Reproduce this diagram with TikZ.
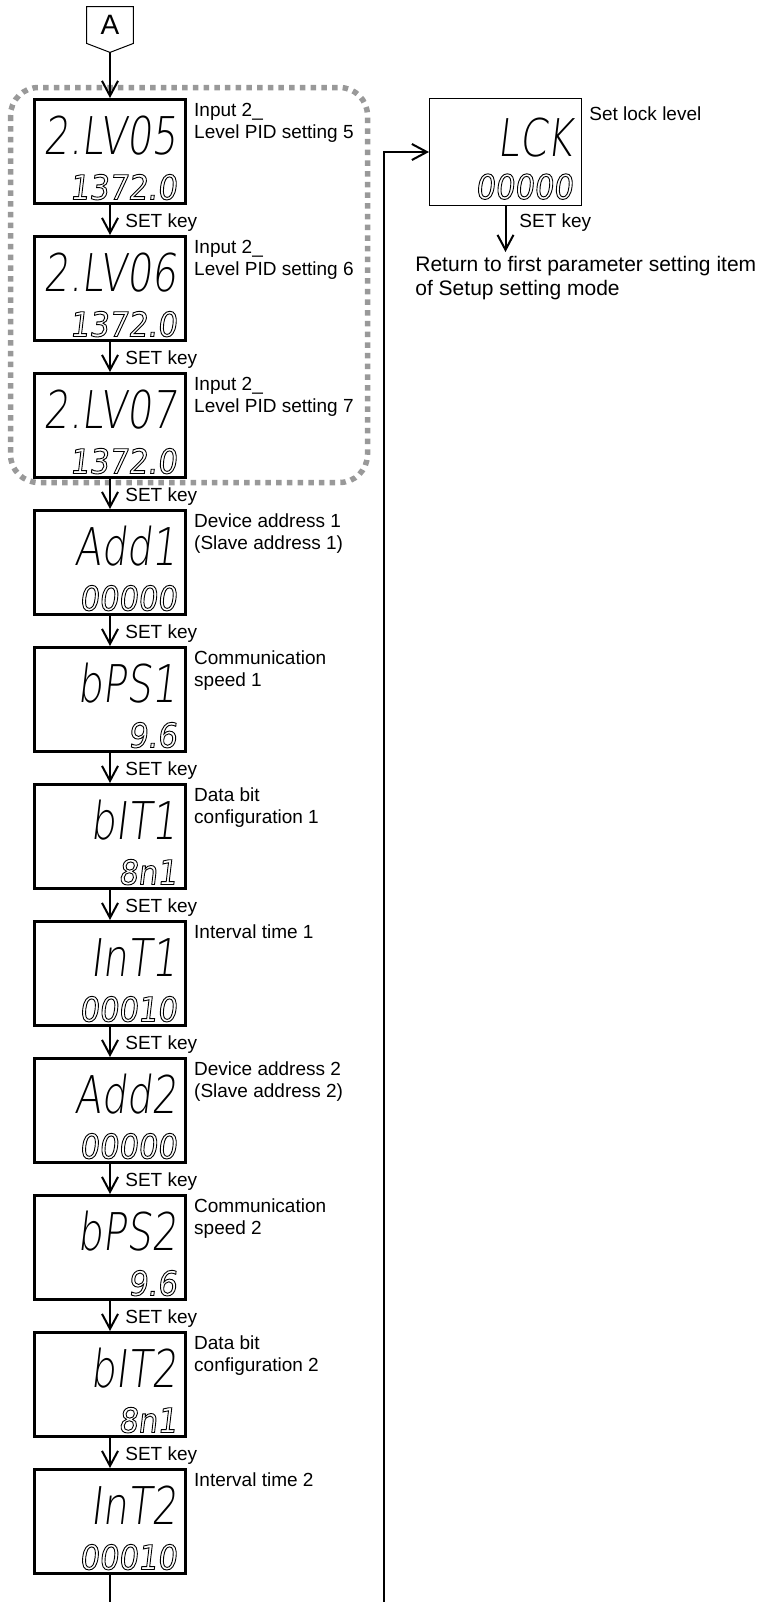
\documentclass[tikz,border=0pt]{standalone}
\usepackage{fontspec}
\setmainfont{Liberation Sans}
\newfontfamily\segfont{DejaVu Sans ExtraLight}[FakeSlant=0.12,FakeStretch=0.76]
\newfontfamily\segfontw{DejaVu Sans}[FakeSlant=0.12,FakeStretch=0.9]
\usepackage{tikz}
\usetikzlibrary{positioning, calc, arrows.meta}
\usepackage{xcolor}
\definecolor{dotgray}{HTML}{999999}
\newcommand{\hollow}[1]{\special{pdf:literal direct 1 Tr 0.45 w}#1\special{pdf:literal direct 0 Tr}}

\begin{document}
\begin{tikzpicture}[
  x=0.5pt, y=-0.5pt,
  panel/.style={draw, line width=1.5pt, minimum width=75.5pt, minimum height=52pt, inner sep=0pt},
  lockpanel/.style={draw, line width=0.5pt, minimum width=76pt, minimum height=53.5pt, inner sep=0pt},
  upper/.style={anchor=base east, inner sep=0pt, font=\segfont\fontsize{26}{26}\selectfont},
  lower/.style={anchor=base east, inner sep=0pt, font=\segfontw\fontsize{17}{17}\selectfont},
  desc/.style={anchor=north west, inner sep=0pt, align=left, font=\fontsize{9.5}{11}\selectfont},
  setkey/.style={anchor=base west, inner sep=0pt, font=\fontsize{9.5}{11}\selectfont},
  note/.style={anchor=north west, inner sep=0pt, align=left, font=\fontsize{10.5}{11.7}\selectfont},
  flow/.style={line width=1pt, -{Straight Barb[length=7.5pt, width=8pt]}}
]
  \useasboundingbox (0,0) rectangle (763,1602);

  % Connector A
  \node[minimum width=23pt, minimum height=18pt, inner sep=0pt, font=\fontsize{14}{14}\selectfont] (conA) at (110,25) {A};
  \draw[line width=0.5pt] (conA.north west) -- (conA.north east) -- (conA.south east)
    -- ([yshift=-4.5pt]conA.south) -- (conA.south west) -- cycle;
  \coordinate (tipA) at ([yshift=-4.5pt]conA.south);

  % Input 2 level PID group
  \draw[dotgray, line width=2.75pt, dash pattern=on 2.75pt off 2.6pt, rounded corners=14pt]
    (10.5,87.5) rectangle (367.5,482.5);

  % Displays
  \node[panel] (b1) at (110,151.5) {};
  \node[upper] (b1u) at ([xshift=-5pt, yshift=-28pt]b1.north east) {2.LV05};
  \node[lower] (b1l) at ([xshift=-5pt, yshift=2.75pt]b1.south east) {\hollow{1372.0}};
  \node[desc] (b1t) at ([xshift=3.4pt, yshift=-2.25pt]b1.north east) {Input 2\_\\Level PID setting 5};

  \node[panel] (b2) at (110,288.5) {};
  \node[upper] (b2u) at ([xshift=-5pt, yshift=-28pt]b2.north east) {2.LV06};
  \node[lower] (b2l) at ([xshift=-5pt, yshift=2.75pt]b2.south east) {\hollow{1372.0}};
  \node[desc] (b2t) at ([xshift=3.4pt, yshift=-2.25pt]b2.north east) {Input 2\_\\Level PID setting 6};

  \node[panel] (b3) at (110,425.5) {};
  \node[upper] (b3u) at ([xshift=-5pt, yshift=-28pt]b3.north east) {2.LV07};
  \node[lower] (b3l) at ([xshift=-5pt, yshift=2.75pt]b3.south east) {\hollow{1372.0}};
  \node[desc] (b3t) at ([xshift=3.4pt, yshift=-2.25pt]b3.north east) {Input 2\_\\Level PID setting 7};

  \node[panel] (b4) at (110,562.5) {};
  \node[upper] (b4u) at ([xshift=-5pt, yshift=-28pt]b4.north east) {Add1};
  \node[lower] (b4l) at ([xshift=-5pt, yshift=2.75pt]b4.south east) {\hollow{00000}};
  \node[desc] (b4t) at ([xshift=3.4pt, yshift=-2.25pt]b4.north east) {Device address 1\\(Slave address 1)};

  \node[panel] (b5) at (110,699.5) {};
  \node[upper] (b5u) at ([xshift=-5pt, yshift=-28pt]b5.north east) {bPS1};
  \node[lower] (b5l) at ([xshift=-5pt, yshift=2.75pt]b5.south east) {\hollow{9.6}};
  \node[desc] (b5t) at ([xshift=3.4pt, yshift=-2.25pt]b5.north east) {Communication\\speed 1};

  \node[panel] (b6) at (110,836.5) {};
  \node[upper] (b6u) at ([xshift=-5pt, yshift=-28pt]b6.north east) {bIT1};
  \node[lower] (b6l) at ([xshift=-5pt, yshift=2.75pt]b6.south east) {\hollow{8n1}};
  \node[desc] (b6t) at ([xshift=3.4pt, yshift=-2.25pt]b6.north east) {Data bit\\configuration 1};

  \node[panel] (b7) at (110,973.5) {};
  \node[upper] (b7u) at ([xshift=-5pt, yshift=-28pt]b7.north east) {InT1};
  \node[lower] (b7l) at ([xshift=-5pt, yshift=2.75pt]b7.south east) {\hollow{00010}};
  \node[desc] (b7t) at ([xshift=3.4pt, yshift=-2.25pt]b7.north east) {Interval time 1};

  \node[panel] (b8) at (110,1110.5) {};
  \node[upper] (b8u) at ([xshift=-5pt, yshift=-28pt]b8.north east) {Add2};
  \node[lower] (b8l) at ([xshift=-5pt, yshift=2.75pt]b8.south east) {\hollow{00000}};
  \node[desc] (b8t) at ([xshift=3.4pt, yshift=-2.25pt]b8.north east) {Device address 2\\(Slave address 2)};

  \node[panel] (b9) at (110,1247.5) {};
  \node[upper] (b9u) at ([xshift=-5pt, yshift=-28pt]b9.north east) {bPS2};
  \node[lower] (b9l) at ([xshift=-5pt, yshift=2.75pt]b9.south east) {\hollow{9.6}};
  \node[desc] (b9t) at ([xshift=3.4pt, yshift=-2.25pt]b9.north east) {Communication\\speed 2};

  \node[panel] (b10) at (110,1384.5) {};
  \node[upper] (b10u) at ([xshift=-5pt, yshift=-28pt]b10.north east) {bIT2};
  \node[lower] (b10l) at ([xshift=-5pt, yshift=2.75pt]b10.south east) {\hollow{8n1}};
  \node[desc] (b10t) at ([xshift=3.4pt, yshift=-2.25pt]b10.north east) {Data bit\\configuration 2};

  \node[panel] (b11) at (110,1521.5) {};
  \node[upper] (b11u) at ([xshift=-5pt, yshift=-28pt]b11.north east) {InT2};
  \node[lower] (b11l) at ([xshift=-5pt, yshift=2.75pt]b11.south east) {\hollow{00010}};
  \node[desc] (b11t) at ([xshift=3.4pt, yshift=-2.25pt]b11.north east) {Interval time 2};

  % Lock level
  \node[lockpanel] (lck) at (505.5,152) {};
  \node[upper] (lcku) at ([xshift=-4.5pt, yshift=-29.25pt]lck.north east) {LCK};
  \node[lower] (lckl) at ([xshift=-4.5pt, yshift=3.5pt]lck.south east) {\hollow{00000}};
  \node[desc] (lckt) at ([xshift=3.5pt, yshift=-4pt]lck.north east) {Set lock level};

  % Key labels
  \node[setkey] (k1) at (125,227.5) {SET key};
  \node[setkey] (k2) at (125,364.5) {SET key};
  \node[setkey] (k3) at (125,501.5) {SET key};
  \node[setkey] (k4) at (125,638.5) {SET key};
  \node[setkey] (k5) at (125,775.5) {SET key};
  \node[setkey] (k6) at (125,912.5) {SET key};
  \node[setkey] (k7) at (125,1049.5) {SET key};
  \node[setkey] (k8) at (125,1186.5) {SET key};
  \node[setkey] (k9) at (125,1323.5) {SET key};
  \node[setkey] (k10) at (125,1460.5) {SET key};
  \node[setkey] (klck) at (519,227.5) {SET key};

  \coordinate (retTip) at (505.5,252);
  \node[note] (ret) at (415,256) {Return to first parameter setting item\\of Setup setting mode};

  % Arrows
  \draw[flow] (tipA) -- (b1);
  \foreach \a/\b in {b1/b2, b2/b3, b3/b4, b4/b5, b5/b6, b6/b7, b7/b8, b8/b9, b9/b10, b10/b11} {
    \draw[flow] (\a) -- (\b);
  }
  \draw[flow] (lck) -- (retTip);

  % Loop back to lock level
  \coordinate (loopL) at (110,1602);
  \coordinate (loopR) at (384,1602);
  \draw[line width=1pt] (b11) -- (loopL);
  \draw[flow] (loopR) |- (lck);
\end{tikzpicture}
\end{document}
